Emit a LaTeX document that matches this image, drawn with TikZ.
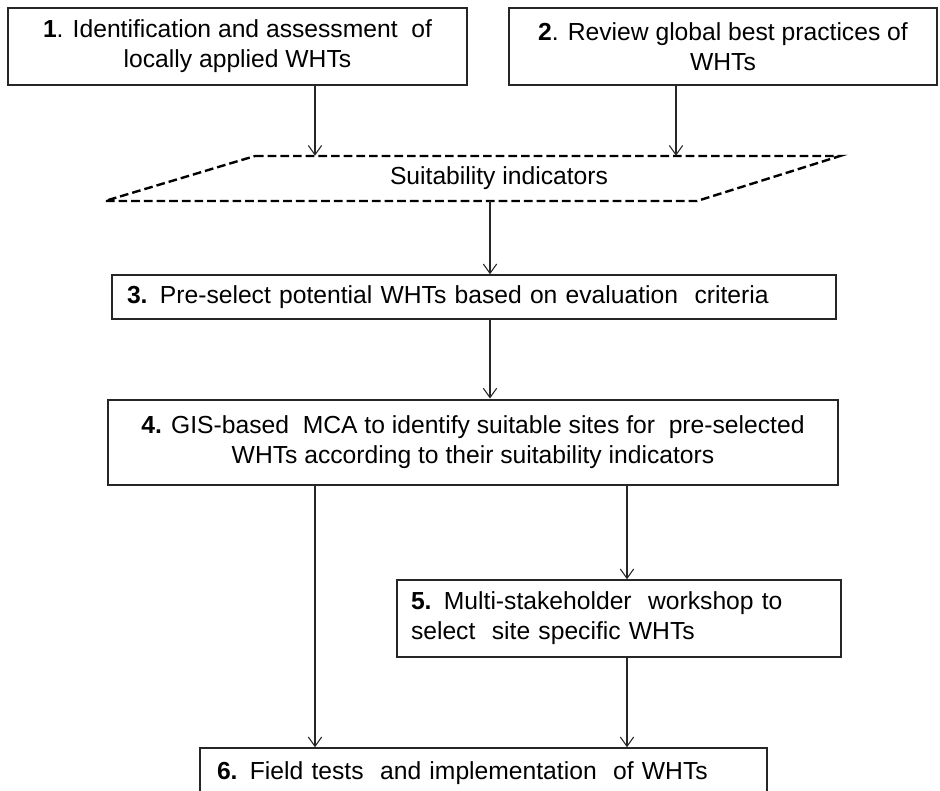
\documentclass[tikz,border=0pt]{standalone}
\usepackage{fontspec}
\setmainfont{Liberation Sans}
\usetikzlibrary{arrows.meta}
\begin{document}
\begin{tikzpicture}[x=0.75pt,y=-0.75pt,
  txt/.style={font=\fontsize{18.5}{22.5}\selectfont},
  box/.style={draw=black!85, line width=1.1pt, inner sep=0pt, txt},
  mainbox/.style={box, line width=2.2pt},
  arr/.style={draw=black!85, line width=0.8pt, -{Straight Barb[length=7pt,width=10pt,line width=0.8pt]}},
  indic/.style={draw=black, line width=1.8pt, dash pattern=on 6.5pt off 3pt},
]
\useasboundingbox (0,0) rectangle (940,791);
\clip (0,0) rectangle (940,791);

% source steps
\node[box, minimum width=344.25pt, minimum height=57.75pt, align=center] (b1) at (237.5,46.5)
  {\textbf{1}. Identification and assessment\ \ of\\locally applied WHTs};
\node[box, minimum width=321pt, minimum height=57.75pt, align=center] (b2) at (723,46.5)
  {\textbf{2}. Review global best practices of\\WHTs};

% suitability indicators (parallelogram)
\coordinate (p1) at (255,156);
\coordinate (p2) at (840,156);
\coordinate (p3) at (697,201);
\coordinate (p4) at (105,201);
\draw[indic] (p1) -- (p2) -- (p3) -- (p4) -- cycle;
\node[txt, inner sep=0pt, minimum height=33.75pt] (ind) at (499,178.5) {Suitability indicators};

% evaluation and selection steps
\node[box, minimum width=543pt, minimum height=33pt, text width=520.5pt, inner xsep=11.25pt, align=left] (b3) at (474,297)
  {\textbf{3.} Pre-select potential WHTs based on evaluation\ \ criteria};
\node[mainbox, minimum width=547.5pt, minimum height=63.75pt, align=center] (b4) at (473,442.5)
  {\textbf{4.} GIS-based\ \ MCA to identify suitable sites for\ \ pre-selected\\WHTs according to their suitability indicators};
\node[box, minimum width=333pt, minimum height=57.75pt, text width=312pt, inner xsep=10.5pt, align=left] (b5) at (619,618.5)
  {\textbf{5.} Multi-stakeholder\ \ workshop to\\select\ \ site specific WHTs};
\node[box, minimum width=425.25pt, minimum height=37.5pt, text width=399.75pt, inner xsep=12.75pt, align=left] (b6) at (483.5,773)
  {\textbf{6.} Field tests\ \ and implementation\ \ of WHTs};

% connector columns
\coordinate (cA) at (315,0);
\coordinate (cB) at (676,0);
\coordinate (cC) at (490,0);
\coordinate (cD) at (627,0);

\draw[arr] (cA |- b1.south) -- (cA |- ind.north);
\draw[arr] (cB |- b2.south) -- (cB |- ind.north);
\draw[arr] (cC |- ind.south) -- (cC |- b3.north);
\draw[arr] (cC |- b3.south) -- (cC |- b4.north);
\draw[arr] (cA |- b4.south) -- (cA |- b6.north);
\draw[arr] (cD |- b4.south) -- (cD |- b5.north);
\draw[arr] (cD |- b5.south) -- (cD |- b6.north);
\end{tikzpicture}
\end{document}
